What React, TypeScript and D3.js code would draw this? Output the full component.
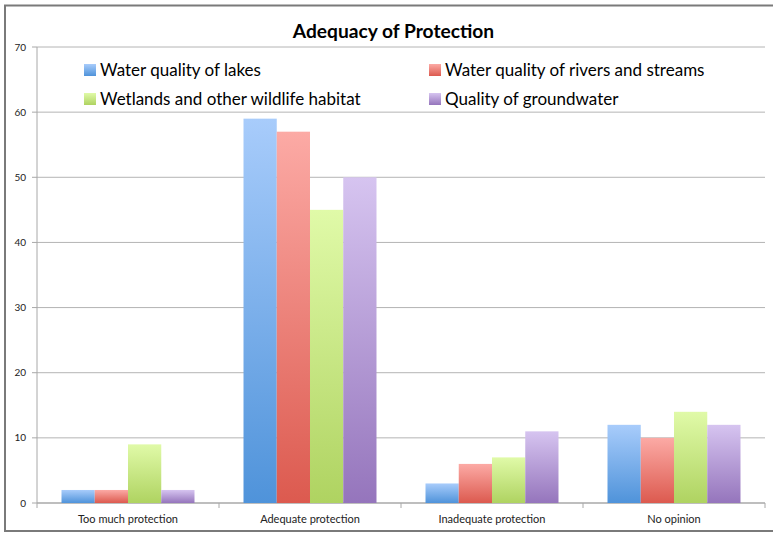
import React from "react";
import * as d3 from "d3";

const categories = ["Too much protection", "Adequate protection", "Inadequate protection", "No opinion"];
const seriesNames = [
  "Water quality of lakes",
  "Water quality of rivers and streams",
  "Wetlands and other wildlife habitat",
  "Quality of groundwater",
];
const lakes = [2, 59, 3, 12];
const rivers = [2, 57, 6, 10];
const wetlands = [9, 45, 7, 14];
const groundwater = [2, 50, 11, 12];
const yTicks = [0, 10, 20, 30, 40, 50, 60, 70];
const colorsTop = ["#a8ccfb", "#fcaaa5", "#e0faa8", "#d6c4f0"];
const colorsBottom = ["#4f93da", "#dc5a4f", "#afd361", "#9575bc"];

const W = 773;
const H = 533;
const left = 37;
const right = 765;
const top = 47;
const bottom = 503;
const font = "Lato, 'Open Sans', sans-serif";

export default function App() {
  const seriesValues = [lakes, rivers, wetlands, groundwater];
  const x0 = d3.scaleBand<string>().domain(categories).range([left, right]).padding(0);
  const x1 = d3
    .scaleBand<number>()
    .domain(d3.range(seriesNames.length))
    .range([0, x0.bandwidth()])
    .paddingInner(0)
    .paddingOuter(0.737);
  const y = d3.scaleLinear().domain([0, 70]).range([bottom, top]);
  const catTicks = [...categories.map((c) => x0(c) as number), right];

  const legendPos = [
    { x: 84, y: 70 },
    { x: 429, y: 70 },
    { x: 84, y: 99 },
    { x: 429, y: 99 },
  ];

  return (
    <svg
      width={W}
      height={H}
      style={{ position: "absolute", left: 0, top: 0, background: "#fff" }}
    >
      <defs>
        {seriesNames.map((_, i) => (
          <linearGradient key={i} id={`g${i}`} x1="0" y1="0" x2="0" y2="1">
            <stop offset="0%" stopColor={colorsTop[i]} />
            <stop offset="100%" stopColor={colorsBottom[i]} />
          </linearGradient>
        ))}
      </defs>
      <rect x={0} y={0} width={W} height={H} fill="#fff" />
      <rect x={5} y={5.5} width={800} height={525.5} fill="none" stroke="#7a7a7a" strokeWidth={2} />

      <text x={393.5} y={38} textAnchor="middle" fontFamily={font} fontWeight="bold" fontSize={19.2} fill="#000">
        Adequacy of Protection
      </text>

      {yTicks.map((t) => (
        <g key={t}>
          <line x1={left} x2={right} y1={y(t)} y2={y(t)} stroke={t === 0 ? "#a8a8a8" : "#b4b4b4"} strokeWidth={t === 0 ? 1.5 : 1} />
          <line x1={left - 5} x2={left} y1={y(t)} y2={y(t)} stroke="#a8a8a8" />
          <text x={26} y={y(t) + 3.5} textAnchor="end" fontFamily={font} fontSize={10} fill="#222">
            {t}
          </text>
        </g>
      ))}
      <line x1={left} x2={left} y1={top} y2={bottom} stroke="#a8a8a8" />
      {catTicks.map((cx, i) => (
        <line key={i} x1={cx} x2={cx} y1={bottom} y2={bottom + 5} stroke="#a8a8a8" />
      ))}

      {categories.map((c, ci) => (
        <g key={c}>
          {seriesValues.map((vals, si) => {
            const bx = (x0(c) as number) + (x1(si) as number);
            return (
              <rect
                key={si}
                x={bx}
                y={y(vals[ci])}
                width={x1.bandwidth()}
                height={bottom - y(vals[ci])}
                fill={`url(#g${si})`}
              />
            );
          })}
          <text
            x={(x0(c) as number) + x0.bandwidth() / 2}
            y={523}
            textAnchor="middle"
            fontFamily={font}
            fontSize={11}
            fill="#222"
          >
            {c}
          </text>
        </g>
      ))}

      {seriesNames.map((n, i) => (
        <g key={n}>
          <rect x={legendPos[i].x} y={legendPos[i].y - 6} width={12} height={12} fill={`url(#g${i})`} />
          <text x={legendPos[i].x + 16} y={legendPos[i].y + 6} fontFamily={font} fontSize={17} fill="#000">
            {n}
          </text>
        </g>
      ))}
    </svg>
  );
}
